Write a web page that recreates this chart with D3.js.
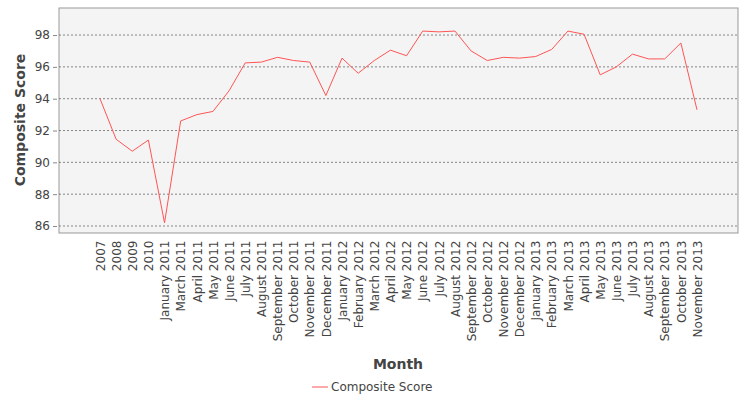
<!DOCTYPE html>
<html><head><meta charset="utf-8">
<script src="https://cdn.jsdelivr.net/npm/d3@7"></script>
<style>body{margin:0;background:#fff}text{font-family:"DejaVu Sans",sans-serif}</style>
</head><body><svg id="c" width="750" height="400"></svg>
<script>
const categories=["2007","2008","2009","2010","January 2011","March 2011","April 2011","May 2011","June 2011","July 2011","August 2011","September 2011","October 2011","November 2011","December 2011","January 2012","February 2012","March 2012","April 2012","May 2012","June 2012","July 2012","August 2012","September 2012","October 2012","November 2012","December 2012","January 2013","February 2013","March 2013","April 2013","May 2013","June 2013","July 2013","August 2013","September 2013","October 2013","November 2013"];
const values=[94.0,91.45,90.7,91.4,86.2,92.6,93.0,93.2,94.5,96.25,96.3,96.6,96.4,96.3,94.2,96.55,95.6,96.4,97.05,96.7,98.25,98.2,98.25,97.0,96.4,96.6,96.55,96.65,97.1,98.25,98.05,95.5,96.0,96.8,96.5,96.5,97.5,93.3];
const yTicks=[86,88,90,92,94,96,98];
const seriesName="Composite Score";

const svg=d3.select("#c");
const L=59,R=738,T=8,B=233;
const x=d3.scalePoint().domain(categories).range([100,697]);
const y=d3.scaleLinear().domain([85.56,99.7]).range([B,T]);
svg.append("rect").attr("x",L).attr("y",T).attr("width",R-L).attr("height",B-T).attr("fill","#f4f4f4").attr("stroke","#999");
svg.append("g").selectAll("line").data(yTicks).join("line")
 .attr("x1",L).attr("x2",R).attr("y1",d=>y(d)).attr("y2",d=>y(d))
 .attr("stroke","#555").attr("stroke-width",0.7).attr("stroke-dasharray","2,2");
const ya=svg.append("g").attr("transform",`translate(${L-2},0)`).call(d3.axisLeft(y).tickValues(yTicks).tickSize(4));
ya.select(".domain").remove();
ya.selectAll("text").attr("font-size",12).attr("fill","#444");
ya.selectAll("line").attr("stroke","#888");
const xa=svg.append("g").attr("transform",`translate(0,${B+2})`).call(d3.axisBottom(x).tickSize(0));
xa.select(".domain").remove();
xa.selectAll("text").attr("font-size",12).attr("fill","#444")
 .attr("transform","rotate(-90)").attr("text-anchor","end").attr("dx","-0.3em").attr("dy","0.35em").attr("x",-2).attr("y",0);
svg.append("path").datum(values).attr("fill","none").attr("stroke","#ff5555").attr("stroke-width",1)
 .attr("d",d3.line().x((d,i)=>x(categories[i])).y(d=>y(d)));
svg.append("text").attr("x",398).attr("y",369).attr("text-anchor","middle").attr("font-size",14).attr("font-weight","bold").attr("fill","#444").text("Month");
svg.append("text").attr("transform","translate(25,120) rotate(-90)").attr("text-anchor","middle").attr("font-size",14).attr("font-weight","bold").attr("fill","#444").text("Composite Score");
svg.append("line").attr("x1",312).attr("x2",328).attr("y1",387).attr("y2",387).attr("stroke","#ff5555");
svg.append("text").attr("x",331).attr("y",391).attr("font-size",12).attr("fill","#444").text(seriesName);
</script></body></html>
